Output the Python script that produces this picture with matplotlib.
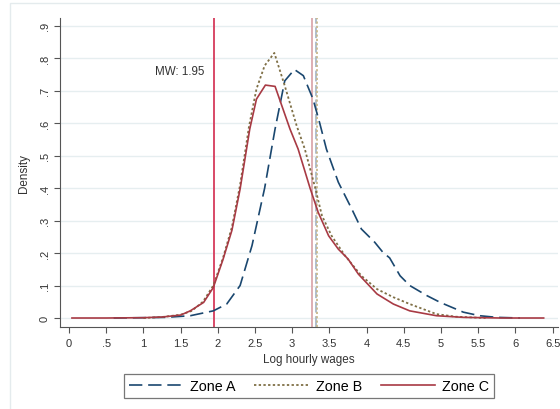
import matplotlib

matplotlib.use("Agg")
import matplotlib.pyplot as plt
from matplotlib.patches import Rectangle

plt.rcParams["font.family"] = ["Liberation Sans", "DejaVu Sans"]

# kernel density readings, log hourly wages
zone_a_x = [0.60, 1.00, 1.30, 1.63, 1.94, 2.12, 2.30, 2.46, 2.63, 2.77, 2.90, 3.03, 3.15,
            3.28, 3.37, 3.46, 3.62, 3.80, 3.93, 4.11, 4.22, 4.31, 4.45, 4.58, 4.81, 4.99,
            5.30, 5.52, 5.75, 6.06]
zone_a_y = [0.000, 0.001, 0.002, 0.007, 0.022, 0.043, 0.100, 0.223, 0.400, 0.582, 0.730,
            0.765, 0.746, 0.674, 0.600, 0.520, 0.418, 0.336, 0.274, 0.233, 0.202, 0.185,
            0.130, 0.100, 0.069, 0.048, 0.018, 0.007, 0.002, 0.000]

zone_b_x = [1.00, 1.25, 1.50, 1.65, 1.80, 1.94, 2.07, 2.19, 2.30, 2.42, 2.52, 2.63, 2.76,
            2.90, 3.06, 3.17, 3.31, 3.40, 3.53, 3.71, 3.93, 4.14, 4.36, 4.58, 4.94, 5.20,
            5.60]
zone_b_y = [0.000, 0.003, 0.010, 0.022, 0.050, 0.100, 0.185, 0.280, 0.410, 0.590, 0.705,
            0.777, 0.816, 0.715, 0.592, 0.520, 0.400, 0.315, 0.253, 0.192, 0.130, 0.089,
            0.064, 0.043, 0.012, 0.004, 0.000]

zone_c_x = [0.04, 0.50, 1.00, 1.25, 1.50, 1.63, 1.81, 1.94, 2.07, 2.19, 2.30, 2.43, 2.52,
            2.64, 2.77, 2.97, 3.08, 3.24, 3.35, 3.49, 3.62, 3.75, 3.89, 4.14, 4.36, 4.58,
            4.94, 5.30, 5.80, 6.38]
zone_c_y = [0.000, 0.000, 0.001, 0.003, 0.009, 0.022, 0.048, 0.094, 0.180, 0.270, 0.397,
            0.582, 0.674, 0.717, 0.713, 0.582, 0.520, 0.400, 0.325, 0.253, 0.212, 0.182,
            0.135, 0.074, 0.043, 0.022, 0.007, 0.002, 0.000, 0.000]

min_wage = 1.95
mean_a, mean_b, mean_c = 3.32, 3.34, 3.27

x_ticks = [0, 0.5, 1, 1.5, 2, 2.5, 3, 3.5, 4, 4.5, 5, 5.5, 6, 6.5]
x_tick_labels = ["0", ".5", "1", "1.5", "2", "2.5", "3", "3.5", "4", "4.5", "5", "5.5", "6", "6.5"]
y_ticks = [0, 0.1, 0.2, 0.3, 0.4, 0.5, 0.6, 0.7, 0.8, 0.9]
y_tick_labels = ["0", ".1", ".2", ".3", ".4", ".5", ".6", ".7", ".8", ".9"]

navy = "#1a476f"
khaki = "#7f6f45"
maroon = "#a83a44"

fig = plt.figure(figsize=(5.6, 4.1), dpi=100)
fig.patches.append(Rectangle((0.018, -0.1), 1.1, 1.09, transform=fig.transFigure,
                             fill=False, edgecolor="#e4ebed", linewidth=1.0))
ax = fig.add_axes([0.1071, 0.2007, 0.8899, 0.753])

ax.axvline(mean_c, color="#dba8ad", lw=1.3)
ax.axvline(mean_a, color="#a9b9c9", lw=1.3, dashes=(6, 2))
ax.axvline(mean_b, color="#c9b98e", lw=1.3, dashes=(1.2, 1.2))
ax.axvline(min_wage, color="#d63b5c", lw=1.3)

ax.plot(zone_a_x, zone_a_y, color=navy, lw=1.2, dashes=(8, 3.5), label="Zone A")
ax.plot(zone_b_x, zone_b_y, color=khaki, lw=1.3, dashes=(1.3, 1.3), label="Zone B")
ax.plot(zone_c_x, zone_c_y, color=maroon, lw=1.2, label="Zone C")

ax.text(1.815, 0.76, f"MW: {min_wage:g}", ha="right", va="center", fontsize=8.4, color="#333333")

ax.set_xlim(-0.121, 6.577)
ax.set_ylim(-0.0268, 0.9236)
ax.set_xticks(x_ticks)
ax.set_xticklabels(x_tick_labels, fontsize=8, color="#333333")
ax.set_yticks(y_ticks)
ax.set_yticklabels(y_tick_labels, fontsize=8, color="#333333", rotation=90, va="center")
ax.tick_params(axis="x", length=4, width=0.8, color="#555555", pad=4)
ax.tick_params(axis="y", length=4, width=0.8, color="#555555", pad=3.5)
ax.yaxis.grid(True, color="#e6eef0", lw=1.0)
ax.set_axisbelow(True)
for side in ("top", "right"):
    ax.spines[side].set_visible(False)
for side in ("left", "bottom"):
    ax.spines[side].set_color("#555555")
    ax.spines[side].set_linewidth(0.8)

ax.set_xlabel("Log hourly wages", fontsize=8.4, color="#333333", labelpad=4)
ax.set_ylabel("Density", fontsize=8.4, color="#333333", labelpad=7)

leg = fig.legend(loc="center", bbox_to_anchor=(0.552, 0.0573), ncol=3, fontsize=10.3,
                 frameon=True, fancybox=False, edgecolor="#555555", handlelength=3.8,
                 handletextpad=0.5, columnspacing=1.3, borderpad=0.35)
leg.get_frame().set_linewidth(0.9)

fig.savefig("out.png", dpi=100)
